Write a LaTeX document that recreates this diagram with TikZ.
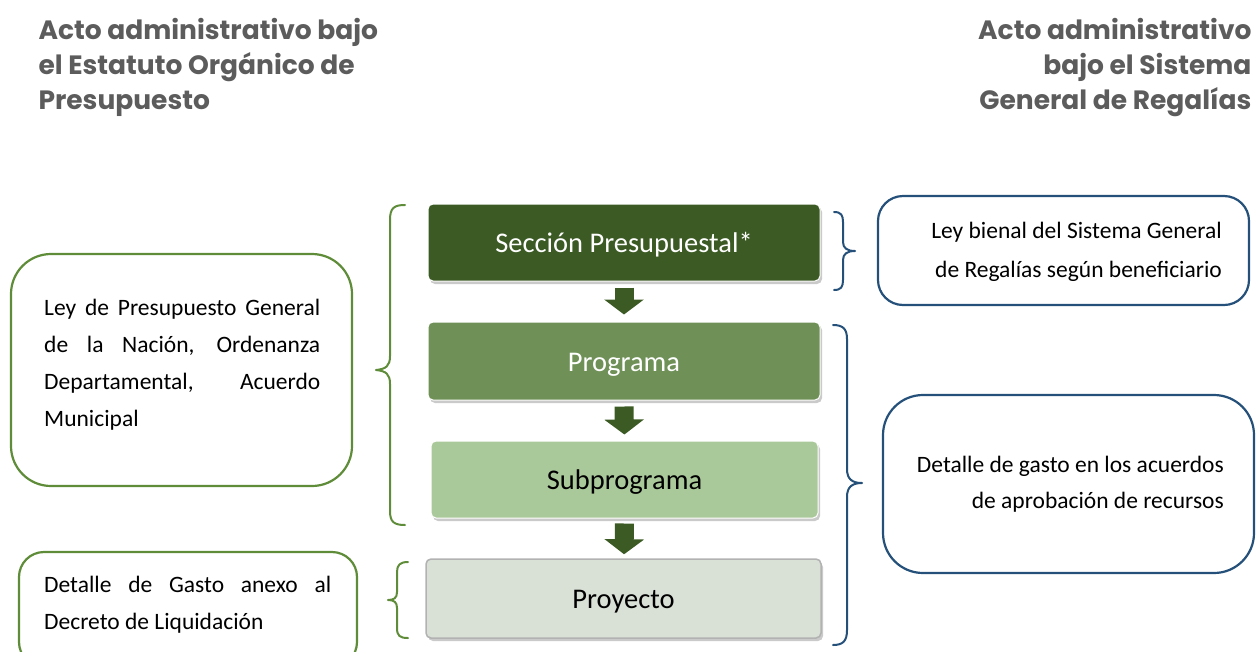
\documentclass[tikz,border=0pt]{standalone}
\usepackage{fontspec}
\setmainfont{Carlito}
\newfontfamily\titlefont{Poppins}
\usetikzlibrary{arrows.meta,shadows}

\definecolor{verdeoscuro}{HTML}{3C5A24}
\definecolor{verdemedio}{HTML}{6F9158}
\definecolor{verdeclaro}{HTML}{AAC99A}
\definecolor{grisverde}{HTML}{D9E0D6}
\definecolor{bordeverde}{HTML}{5E8C38}
\definecolor{azul}{HTML}{24507A}
\definecolor{grisborde}{HTML}{B2B2B2}
\definecolor{gristitulo}{HTML}{5C5C5C}

\begin{document}
\begin{tikzpicture}[x=1pt, y=-1pt,
    nivel/.style={rectangle, rounded corners=5pt, draw=white, line width=1pt,
        font=\fontsize{28.5}{30}\selectfont, text height=20pt, text depth=0pt,
        drop shadow={shadow xshift=2pt, shadow yshift=-3pt, opacity=0.35, fill=black!60}},
    marco/.style={rectangle, rounded corners=#1, line width=2.2pt, fill=white},
    flecha/.style={verdeoscuro, line width=19pt, -{Triangle[length=15pt,width=39pt]}},
    titulo/.style={text=gristitulo, font=\titlefont\bfseries\fontsize{26.5}{35}\selectfont},
    cuerpo/.style={font=\fontsize{23.5}{37}\selectfont, inner sep=0pt},
    llave/.style={line width=2pt, line cap=round, line join=round}]
    \useasboundingbox (0,0) rectangle (1257,651);

    % titles
    \node[titulo, anchor=north west, align=left] (tizq) at (35,15)
        {Acto administrativo bajo\\el Estatuto Orgánico de\\Presupuesto};
    \node[titulo, anchor=north east, align=right] (tder) at (1255,15)
        {Acto administrativo\\bajo el Sistema\\General de Regalías};

    % levels
    \node[nivel, fill=verdeoscuro, text=white, minimum width=392pt, minimum height=77pt] (sec) at (624,242.5) {Sección Presupuestal*};
    \node[nivel, fill=verdemedio, text=white, minimum width=392pt, minimum height=78pt] (prog) at (624,361) {Programa};
    \node[nivel, fill=verdeclaro, text=black, minimum width=387pt, minimum height=77pt] (sub) at (624.5,479.5) {Subprograma};
    \node[nivel, fill=grisverde, draw=grisborde, line width=1.5pt, text=black, minimum width=395pt, minimum height=79pt] (proy) at (623.5,598.5) {Proyecto};

    \draw[flecha, shorten <=6pt, shorten >=7pt] (sec.south) -- (prog.north);
    \draw[flecha, shorten <=6pt, shorten >=6pt] (prog.south) -- (sub.north);
    \draw[flecha, shorten <=5pt, shorten >=4pt] (sub.south) -- ([xshift=0.5pt]proy.north);

    % left boxes
    \node[marco=40pt, draw=bordeverde, minimum width=341pt, minimum height=232pt] (leyA) at (181.5,370) {};
    \node[cuerpo, anchor=north west, align=left] (txtA) at (44,299)
        {\makebox[276pt][s]{Ley de Presupuesto General}\\
         \makebox[276pt][s]{de la Nación, Ordenanza}\\
         \makebox[276pt][s]{Departamental, Acuerdo}\\
         Municipal};
    \node[marco=25pt, draw=bordeverde, minimum width=338pt, minimum height=115pt] (leyB) at (188,609.5) {};
    \node[cuerpo, anchor=north west, align=left] (txtB) at (44,576)
        {\makebox[287pt][s]{Detalle de Gasto anexo al}\\
         Decreto de Liquidación};

    % right boxes
    \node[marco=25pt, draw=azul, minimum width=371pt, minimum height=109pt] (sgr) at (1063.5,250.5) {};
    \node[cuerpo, anchor=north east, align=right, font=\fontsize{23.5}{39}\selectfont] (txtC) at (1222,222)
        {Ley bienal del Sistema General\\de Regalías según beneficiario};
    \node[marco=40pt, draw=azul, minimum width=371pt, minimum height=178pt] (det) at (1068.5,484) {};
    \node[cuerpo, anchor=north east, align=right, font=\fontsize{23.5}{36}\selectfont] (txtD) at (1224,456)
        {Detalle de gasto en los acuerdos\\de aprobación de recursos};

    % braces
    \draw[llave, bordeverde] (405,205) .. controls (394,205) and (390,208) .. (390,220)
        -- (390,356) .. controls (390,366) and (386,369) .. (376,370)
        .. controls (386,371) and (390,374) .. (390,384)
        -- (390,511) .. controls (390,522) and (394,525) .. (405,525);
    \draw[llave, bordeverde] (408,562) .. controls (400,562) and (397,565) .. (397,572)
        -- (397,592) .. controls (397,598) and (394,600) .. (388,600)
        .. controls (394,600) and (397,602) .. (397,608)
        -- (397,628) .. controls (397,636) and (400,638) .. (408,638);
    \draw[llave, azul] (834,212) .. controls (841,212) and (843,215) .. (843,222)
        -- (843,242) .. controls (843,248) and (847,251) .. (855,251)
        .. controls (847,251) and (843,254) .. (843,260)
        -- (843,280) .. controls (843,287) and (841,290) .. (834,290);
    \draw[llave, azul] (833,325) .. controls (843,325) and (847,329) .. (847,339)
        -- (847,469) .. controls (847,479) and (852,483) .. (862,483)
        .. controls (852,483) and (847,487) .. (847,497)
        -- (847,630) .. controls (847,641) and (843,645) .. (833,645);
\end{tikzpicture}
\end{document}
